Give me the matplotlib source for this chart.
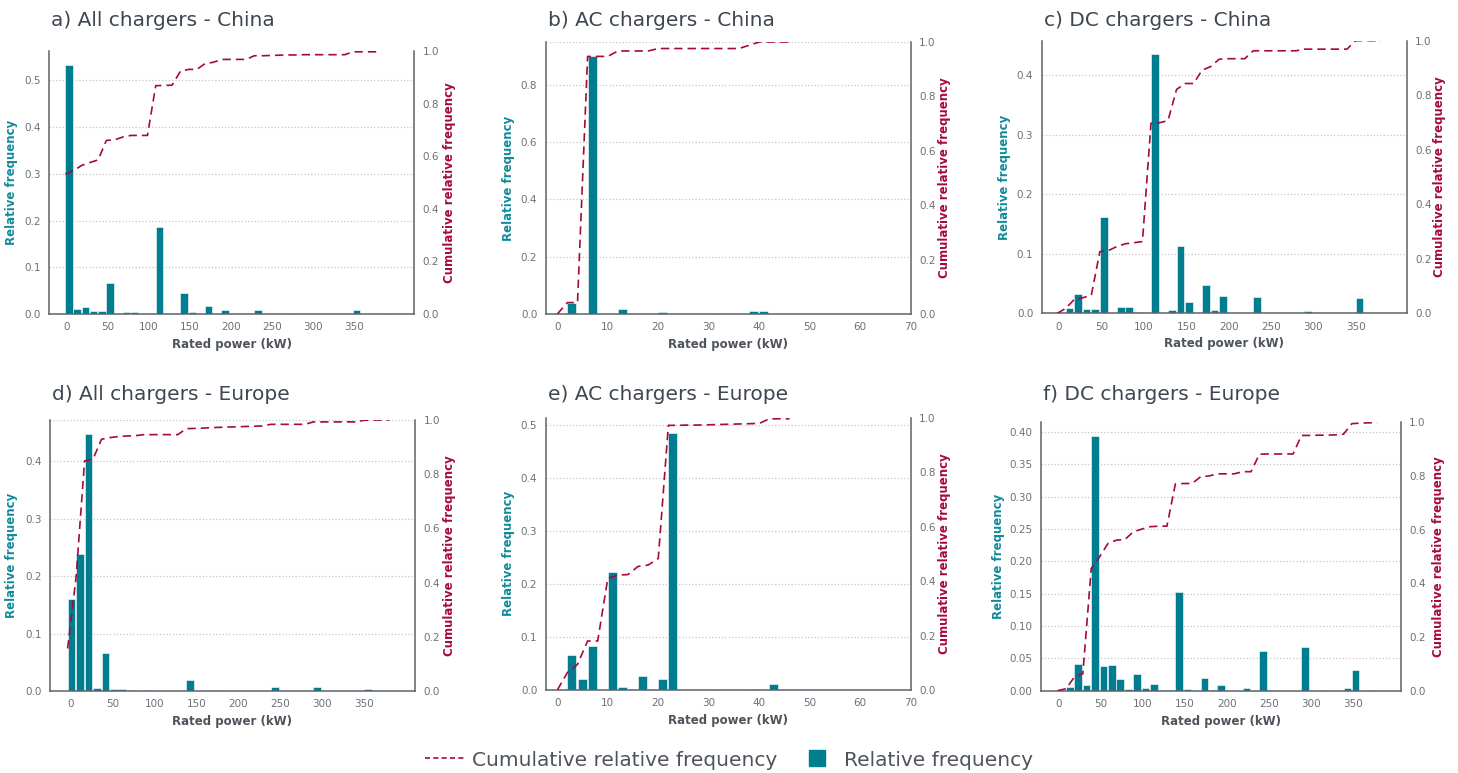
import matplotlib

matplotlib.use("Agg")
import matplotlib.pyplot as plt
import numpy as np
from matplotlib.lines import Line2D

# relative frequency per bin and cumulative relative frequency at each bin edge

# a) All chargers - China (10 kW bins)
a_bin_start, a_bin_width = -1.2, 10.0
a_rel = [0.534, 0.011, 0.016, 0.007, 0.007, 0.067, 0.0, 0.005, 0.0036, 0.001,
         0.0, 0.186, 0.0, 0.001, 0.046, 0.005, 0.0, 0.018, 0.001, 0.009,
         0.0, 0.0, 0.0, 0.0086, 0.0, 0.0, 0.0, 0.0, 0.0, 0.001,
         0.0, 0.0, 0.0, 0.0, 0.0, 0.008, 0.0, 0.0]
a_cum = [0.532, 0.545, 0.565, 0.576, 0.586, 0.660, 0.662, 0.673, 0.679, 0.679,
         0.679, 0.868, 0.869, 0.870, 0.923, 0.930, 0.930, 0.952, 0.957, 0.968,
         0.968, 0.968, 0.968, 0.982, 0.982, 0.983, 0.984, 0.985, 0.985, 0.986,
         0.986, 0.986, 0.986, 0.986, 0.986, 0.997, 0.997, 0.997, 0.997]

# b) AC chargers - China (2 kW bins)
b_bin_start, b_bin_width = 0.0, 2.0
b_rel = [0.0, 0.0395, 0.0, 0.899, 0.0, 0.0, 0.0174, 0.0, 0.0, 0.0,
         0.007, 0.0, 0.0, 0.0, 0.0, 0.0, 0.0, 0.0, 0.0, 0.009,
         0.009, 0.0, 0.0]
b_cum = [0.0, 0.042, 0.042, 0.947, 0.947, 0.947, 0.967, 0.967, 0.967, 0.967,
         0.976, 0.976, 0.976, 0.976, 0.976, 0.976, 0.976, 0.976, 0.976, 0.988,
         1.0, 1.0, 1.0, 1.0]

# c) DC chargers - China
c_bin_start, c_bin_width = -2.1, 10.05
c_rel = [0.0, 0.0084, 0.0325, 0.0078, 0.0067, 0.162, 0.0, 0.0112, 0.0112, 0.0028,
         0.0, 0.436, 0.0, 0.005, 0.1137, 0.019, 0.0, 0.047, 0.0056, 0.0297,
         0.0, 0.0, 0.0, 0.0269, 0.0, 0.0, 0.0, 0.0, 0.0, 0.004,
         0.0, 0.0, 0.0, 0.0, 0.0, 0.0263, 0.0, 0.0]
c_cum = [0.0, 0.018, 0.051, 0.057, 0.066, 0.226, 0.230, 0.245, 0.255, 0.259,
         0.263, 0.697, 0.699, 0.707, 0.821, 0.843, 0.843, 0.892, 0.905, 0.932,
         0.934, 0.934, 0.934, 0.963, 0.963, 0.963, 0.963, 0.963, 0.963, 0.969,
         0.969, 0.969, 0.969, 0.969, 0.969, 1.0, 1.0, 1.0, 1.0]

# d) All chargers - Europe
d_bin_start, d_bin_width = -3.6, 10.1
d_rel = [0.160, 0.238, 0.448, 0.0058, 0.0669, 0.0035, 0.0035, 0.001, 0.0, 0.002,
         0.0, 0.0, 0.0, 0.0, 0.019, 0.0, 0.0, 0.001, 0.0, 0.0,
         0.0, 0.0, 0.0, 0.0, 0.0064, 0.0, 0.0, 0.0, 0.0, 0.007,
         0.0, 0.0, 0.0, 0.0, 0.0, 0.003, 0.0, 0.0]
d_cum = [0.157, 0.42, 0.849, 0.856, 0.929, 0.935, 0.939, 0.941, 0.942, 0.946,
         0.946, 0.946, 0.946, 0.946, 0.968, 0.969, 0.970, 0.972, 0.973, 0.974,
         0.975, 0.976, 0.977, 0.978, 0.984, 0.984, 0.984, 0.984, 0.984, 0.993,
         0.993, 0.993, 0.993, 0.993, 0.993, 0.999, 1.0, 1.0, 1.0]

# e) AC chargers - Europe (2 kW bins)
e_bin_start, e_bin_width = 0.0, 2.0
e_rel = [0.0013, 0.0667, 0.0214, 0.0831, 0.0, 0.2229, 0.0063, 0.0013, 0.0258, 0.0025,
         0.0202, 0.4849, 0.0, 0.0, 0.0, 0.0, 0.0, 0.0, 0.0, 0.0013,
         0.0, 0.0107, 0.0]
e_cum = [0.0, 0.064, 0.094, 0.18, 0.18, 0.41, 0.422, 0.424, 0.454, 0.459,
         0.483, 0.972, 0.972, 0.973, 0.973, 0.974, 0.975, 0.976, 0.977, 0.978,
         0.979, 0.996, 0.996, 0.996]

# f) DC chargers - Europe
f_bin_start, f_bin_width = -1.7, 10.0
f_rel = [0.0, 0.0057, 0.0408, 0.0093, 0.394, 0.0387, 0.0392, 0.018, 0.002, 0.0263,
         0.0041, 0.0108, 0.001, 0.001, 0.1528, 0.0026, 0.0, 0.020, 0.001, 0.0083,
         0.0, 0.0, 0.0036, 0.0, 0.0609, 0.001, 0.0, 0.0, 0.0, 0.0671,
         0.0, 0.0005, 0.0, 0.0, 0.0036, 0.032, 0.0, 0.0015]
f_cum = [0.0, 0.0075, 0.051, 0.063, 0.455, 0.499, 0.549, 0.561, 0.563, 0.592,
         0.602, 0.611, 0.613, 0.613, 0.770, 0.772, 0.772, 0.797, 0.800, 0.808,
         0.808, 0.808, 0.816, 0.816, 0.881, 0.882, 0.882, 0.882, 0.882, 0.951,
         0.951, 0.952, 0.952, 0.953, 0.956, 0.995, 0.997, 0.998, 0.999]

titles = ["a) All chargers - China", "b) AC chargers - China", "c) DC chargers - China",
          "d) All chargers - Europe", "e) AC chargers - Europe", "f) DC chargers - Europe"]

TEAL = "#007d8f"
TEAL_LABEL = "#118a9a"
CRIMSON = "#a6093d"
TITLE_COL = "#3e4650"
TICK_COL = "#6b7078"
LABEL_COL = "#4e545c"
SPINE_COL = "#5c636b"
GRID_COL = "#c4c6c9"

W, H = 1458, 773


def rect(left, top, right, bottom):
    return [left / W, 1 - bottom / H, (right - left) / W, (bottom - top) / H]


panels = [
    dict(pos=(49, 51, 414, 314), start=a_bin_start, width=a_bin_width, rel=a_rel, cum=a_cum,
         xlim=(-21, 423), xticks=np.arange(0, 351, 50), ytop=0.563,
         yticks=np.arange(0, 0.51, 0.1), yfmt="{:.1f}", top_line=False, lpad=37, rpad=36),
    dict(pos=(545.7, 42, 910.7, 314), start=b_bin_start, width=b_bin_width, rel=b_rel, cum=b_cum,
         xlim=(-2.3, 70), xticks=np.arange(0, 71, 10), ytop=0.9486,
         yticks=np.arange(0, 0.81, 0.2), yfmt="{:.1f}", top_line=True, lpad=37, rpad=34),
    dict(pos=(1041.7, 40.7, 1406.7, 313.3), start=c_bin_start, width=c_bin_width, rel=c_rel, cum=c_cum,
         xlim=(-20.4, 410), xticks=np.arange(0, 351, 50), ytop=0.458,
         yticks=np.arange(0, 0.41, 0.1), yfmt="{:.1f}", top_line=False, lpad=37, rpad=33),
    dict(pos=(50, 420, 415, 691), start=d_bin_start, width=d_bin_width, rel=d_rel, cum=d_cum,
         xlim=(-24.6, 410.4), xticks=np.arange(0, 351, 50), ytop=0.4715,
         yticks=np.arange(0, 0.41, 0.1), yfmt="{:.1f}", top_line=True, lpad=38, rpad=35),
    dict(pos=(545.7, 417.7, 910.7, 690), start=e_bin_start, width=e_bin_width, rel=e_rel, cum=e_cum,
         xlim=(-2.3, 70), xticks=np.arange(0, 71, 10), ytop=0.513,
         yticks=np.arange(0, 0.51, 0.1), yfmt="{:.1f}", top_line=False, lpad=37, rpad=34),
    dict(pos=(1040.7, 422.3, 1400.7, 690.7), start=f_bin_start, width=f_bin_width, rel=f_rel, cum=f_cum,
         xlim=(-21.8, 406.3), xticks=np.arange(0, 351, 50), ytop=0.415,
         yticks=np.arange(0, 0.401, 0.05), yfmt="{:.2f}", top_line=False, lpad=42, rpad=38),
]

plt.rcParams["font.family"] = ["DejaVu Sans"]

fig = plt.figure(figsize=(W / 100, H / 100), dpi=100)

for title, p in zip(titles, panels):
    left, top, right, bottom = p["pos"]
    ax = fig.add_axes(rect(left, top, right, bottom))
    rel = np.array(p["rel"])
    cum = np.array(p["cum"])
    bar_x = p["start"] + p["width"] * np.arange(len(rel))
    line_x = p["start"] + p["width"] * np.arange(len(cum))

    ax.bar(bar_x, rel, width=p["width"] * 0.9, align="edge", color=TEAL,
           edgecolor="white", linewidth=0.4, zorder=2)
    ax.set_xlim(*p["xlim"])
    ax.set_ylim(0, p["ytop"])
    ax.set_xticks(p["xticks"])
    ax.set_yticks(p["yticks"])
    ax.set_yticklabels([p["yfmt"].format(v) for v in p["yticks"]])
    ax.grid(axis="y", linestyle=":", color=GRID_COL, linewidth=0.9, zorder=0)
    ax.set_axisbelow(True)
    if p["top_line"]:
        ax.axhline(p["ytop"], linestyle=":", color=GRID_COL, linewidth=0.9, zorder=0)
    ax.tick_params(length=0, labelsize=7.5, labelcolor=TICK_COL, pad=6)
    for side in ["top", "right"]:
        ax.spines[side].set_visible(False)
    for side in ["left", "bottom"]:
        ax.spines[side].set_color(SPINE_COL)
        ax.spines[side].set_linewidth(1.1)
    ax.set_xlabel("Rated power (kW)", fontsize=8.5, fontweight="bold", color=LABEL_COL, labelpad=4)
    ax.set_ylabel("Relative frequency", fontsize=8.5, fontweight="bold", color=TEAL_LABEL,
                  va="center")
    ax_w = right - left
    ax.yaxis.set_label_coords(-p["lpad"] / ax_w, 0.5)

    ax2 = ax.twinx()
    ax2.plot(line_x, cum, color=CRIMSON, linestyle=(0, (5, 3)), linewidth=1.2, zorder=3)
    ax2.set_ylim(0, 1.0)
    ax2.set_yticks(np.arange(0, 1.01, 0.2))
    ax2.set_yticklabels(["{:.1f}".format(v) for v in np.arange(0, 1.01, 0.2)])
    ax2.tick_params(length=0, labelsize=7.5, labelcolor=TICK_COL, pad=6)
    for side in ["top", "left", "bottom"]:
        ax2.spines[side].set_visible(False)
    ax2.spines["right"].set_color(SPINE_COL)
    ax2.spines["right"].set_linewidth(1.1)
    ax2.set_ylabel("Cumulative relative frequency", fontsize=8.5, fontweight="bold",
                   color=CRIMSON, va="center")
    ax2.yaxis.set_label_coords(1 + p["rpad"] / ax_w, 0.5)

    fig.text((left + 2) / W, 1 - (20 if top < 200 else 395) / H, title,
             fontsize=14.5, color=TITLE_COL, ha="left", va="center")

handles = [
    Line2D([0], [0], color=CRIMSON, linestyle=(0, (3, 2)), linewidth=1.2),
    Line2D([0], [0], color=TEAL, linestyle="none", marker="s", markersize=11),
]
fig.legend(handles, ["Cumulative relative frequency", "Relative frequency"],
           loc="center", bbox_to_anchor=(0.5, 1 - 760 / H), ncol=2, frameon=False,
           fontsize=14.5, labelcolor=LABEL_COL, handlelength=2.0,
           handletextpad=0.3, columnspacing=1.0)

fig.savefig("out.png", dpi=100)
